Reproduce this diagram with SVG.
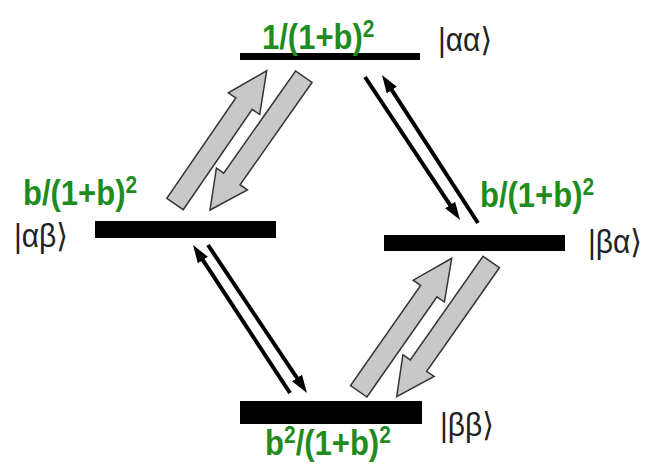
<svg xmlns="http://www.w3.org/2000/svg" width="647" height="466" viewBox="0 0 647 466">
<style>
.bar{fill:#000}
.lbl{font-family:"Liberation Sans",Arial,sans-serif;font-weight:bold;font-size:31px;fill:#1e8c1e}
.sup{font-size:21px}
.ket{font-family:"Liberation Sans","DejaVu Sans",sans-serif;font-size:30px;fill:#222}
.blk{stroke:#000;stroke-width:4;fill:none}
.gray{fill:#c8c8c8;stroke:#333;stroke-width:1.5;stroke-linejoin:miter}
</style>
<defs>
<marker id="ah" markerUnits="userSpaceOnUse" viewBox="0 0 18 12" markerWidth="18" markerHeight="12" refX="2" refY="6" orient="auto">
<path d="M0,0 L18,6 L0,12 z" fill="#000"/>
</marker>
</defs>
<rect width="647" height="466" fill="#fff"/>
<g id="aa">
<rect class="bar" x="240" y="53" width="180" height="7"/>
<text class="lbl" transform="translate(262,49) scale(1,1.12)">1/(1+b)<tspan class="sup" dy="-11">2</tspan></text>
<text class="ket" transform="translate(438,50.5) scale(1,1.1)">|αα⟩</text>
</g>
<g id="ab">
<rect class="bar" x="95" y="221" width="181" height="17"/>
<text class="lbl" transform="translate(23,205) scale(1,1.12)">b/(1+b)<tspan class="sup" dy="-11">2</tspan></text>
<text class="ket" transform="translate(14,247) scale(1,1.1)">|αβ⟩</text>
</g>
<g id="ba">
<rect class="bar" x="384" y="235" width="181" height="16"/>
<text class="lbl" transform="translate(480,207) scale(1,1.12)">b/(1+b)<tspan class="sup" dy="-11">2</tspan></text>
<text class="ket" transform="translate(588,253) scale(1,1.1)">|βα⟩</text>
</g>
<g id="bb">
<rect class="bar" x="240" y="401" width="182" height="23"/>
<text class="lbl" transform="translate(265,455) scale(1,1.12)">b<tspan class="sup" dy="-11">2</tspan><tspan dy="11">/(1+b)</tspan><tspan class="sup" dy="-11">2</tspan></text>
<text class="ket" transform="translate(440,436) scale(1,1.1)">|ββ⟩</text>
</g>
<g id="connectors">
<polygon class="gray" points="183.2,209.7 252.2,109.4 259.7,114.5 266.7,70.7 228.3,92.9 235.8,98.0 166.8,198.3"/>
<polygon class="gray" points="312.0,82.5 240.1,184.7 247.4,189.8 210,210 216.4,168.0 223.7,173.2 295.6,71.0"/>
<polygon class="gray" points="366.9,397.0 437.0,296.8 444.4,302.0 451.7,258.3 413.2,280.2 420.6,285.4 350.5,385.6"/>
<polygon class="gray" points="499.4,267.7 426.7,371.3 434.1,376.5 396.7,396.7 402.9,354.7 410.3,359.9 483.0,256.3"/>
<path class="blk" d="M365,77 L451.2,206.7" marker-end="url(#ah)"/>
<path class="blk" d="M478,223 L390.7,88.4" marker-end="url(#ah)"/>
<path class="blk" d="M290,393 L201.8,258.4" marker-end="url(#ah)"/>
<path class="blk" d="M208,245 L298.1,379.7" marker-end="url(#ah)"/>
</g>
</svg>
